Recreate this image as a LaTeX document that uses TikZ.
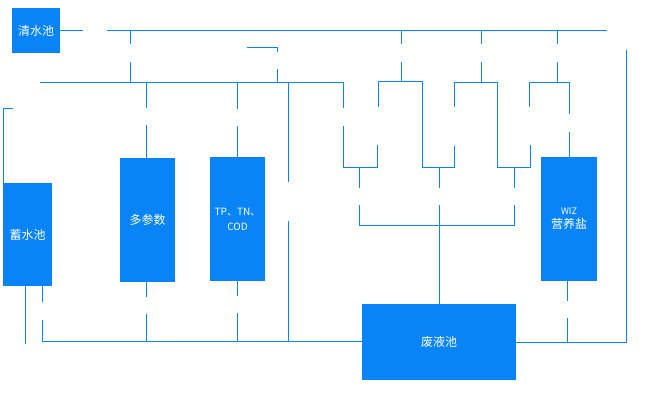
\documentclass[tikz,border=0pt]{standalone}
\usepackage{fontspec}
\newfontfamily\cjk{Noto Sans CJK SC}
\usepackage{xcolor}
\definecolor{Tank}{HTML}{0984F7}
\usepackage{tikz}
\tikzset{
  tank/.style={fill=Tank,text=white,inner sep=0pt,align=center,
    font=\cjk\fontsize{12pt}{14pt}\selectfont},
  small/.style={font=\cjk\fontsize{10pt}{15pt}\selectfont},
  pipe/.style={draw=Tank,line width=1pt}
}
\begin{document}
\begin{tikzpicture}[x=1pt,y=-1pt]
\useasboundingbox (0,0) rectangle (650,400);
\node[tank,minimum width=48pt,minimum height=45pt] (clear) at (36,30.5) {清水池};
\node[tank,minimum width=49pt,minimum height=103pt] (store) at (27.5,234.5) {蓄水池};
\node[tank,minimum width=55pt,minimum height=124pt] (multi) at (147.5,220) {多参数};
\node[tank,small,minimum width=55pt,minimum height=124pt] (tpn) at (237.5,219) {TP、TN、\\COD};
\node[tank,minimum width=56pt,minimum height=124pt] (wiz) at (569,219)
  {{\fontsize{9pt}{11pt}\selectfont WIZ}\\营养盐};
\node[tank,minimum width=154pt,minimum height=76pt] (waste) at (439,342) {废液池};
% clean water main
\draw[pipe] (clear.east) -- (83,30.5);
\draw[pipe] (107,30) -- (607,30);
\draw[pipe] (130,30) -- (130,44) (130,62) -- (130,82);
\draw[pipe] (247,47) -| (277,52) (277,69) -- (277,82);
\draw[pipe] (40,82) -- (343,82) -- (343,108);
\draw[pipe] (343,126) |- (377,167) -- (377,145) (359,167) -- (359,188);
\draw[pipe] (146,82) -- (146,108) (146,125) -- (multi.north -| 146,0);
\draw[pipe] (237,82) -- (237,109) (237,126) -- (tpn.north -| 237,0);
\draw[pipe] (288,82) -- (288,182) (288,221) -- (288,341);
\draw[pipe] (13,108) -| (store.north -| 3,0);
% branch groups
\draw[pipe] (401,30) -- (401,44) (401,62) -- (401,81);
\draw[pipe] (378,107) |- (422,81) -- (422,167) -| (454,146) (439,167) -- (439,188);
\draw[pipe] (481,30) -- (481,44) (481,62) -- (481,82);
\draw[pipe] (454,107) |- (497,82) -- (497,167) -| (530,145) (514,167) -- (514,188);
\draw[pipe] (557,30) -- (557,44) (557,62) -- (557,82);
\draw[pipe] (529,107) |- (569,82) -- (569,114) (569,132) -- (wiz.north -| 569,0);
\draw[pipe] (359,205) |- (514,225) -- (514,205) (439,205) -- (waste.north);
% drains
\draw[pipe] (25,286) -- (25,344);
\draw[pipe] (42,286) -- (42,302) (42,320) -- (42,341) -- (waste.west |- 0,341);
\draw[pipe] (146,282) -- (146,297) (146,314) -- (146,341);
\draw[pipe] (237,281) -- (237,296) (237,313) -- (237,341);
\draw[pipe] (waste.east) -- (626,342) -- (626,50);
\draw[pipe] (567,281) -- (567,301) (567,318) -- (567,342);
\end{tikzpicture}
\end{document}
